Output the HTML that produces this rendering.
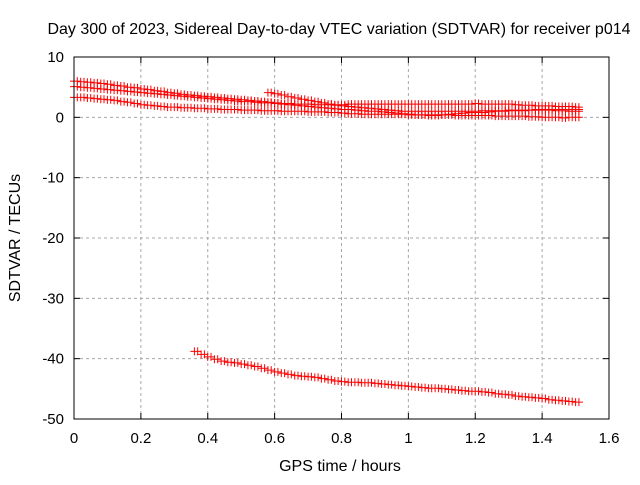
<!DOCTYPE html>
<html><head><meta charset="utf-8"><style>
body{margin:0;background:#fff}
svg text{font-family:"Liberation Sans",sans-serif;font-size:15px;fill:#000}
svg text.big{font-size:16px}
</style></head><body>
<svg id="c" width="640" height="480" xmlns="http://www.w3.org/2000/svg">
<rect width="640" height="480" fill="#fff"/>
<text class="big" x="339" y="34" text-anchor="middle">Day 300 of 2023, Sidereal Day-to-day VTEC variation (SDTVAR) for receiver p014</text>
<text class="big" x="340" y="471" text-anchor="middle">GPS time / hours</text>
<text class="big" transform="translate(20,238) rotate(-90)" text-anchor="middle">SDTVAR / TECUs</text>
<g id="grid"></g><g id="marks"></g>
<rect x="74" y="57" width="535" height="362" fill="none" stroke="#000" stroke-width="1"/>
</svg>
<script>
const xTicks=[0,0.2,0.4,0.6,0.8,1,1.2,1.4,1.6];
const xTickLabels=["0","0.2","0.4","0.6","0.8","1","1.2","1.4","1.6"];
const yTicks=[10,0,-10,-20,-30,-40,-50];
const yTickLabels=["10","0","-10","-20","-30","-40","-50"];
const step=0.02;
const s1Start=0;
const s1=[6.0,5.9,5.8,5.7,5.6,5.5,5.3,5.2,5.0,4.9,4.7,4.6,4.4,4.3,4.1,4.0,3.8,3.7,3.6,3.5,3.4,3.3,3.2,3.1,3.0,2.9,2.8,2.7,2.6,2.5,2.4,2.3,2.3,2.2,2.2,2.2,2.1,2.1,2.1,2.1,2.1,2.2,2.2,2.2,2.2,2.2,2.2,2.2,2.2,2.2,2.2,2.2,2.2,2.2,2.2,2.2,2.2,2.2,2.2,2.2,2.3,2.2,2.2,2.2,2.2,2.2,2.1,2.0,2.0,1.9,1.9,1.9,1.8,1.8,1.8,1.7];
const s2Start=0;
const s2=[5.1,5.0,4.9,4.8,4.7,4.6,4.5,4.4,4.3,4.2,4.1,4.0,3.9,3.8,3.7,3.6,3.5,3.4,3.3,3.2,3.1,3.0,2.9,2.8,2.7,2.6,2.6,2.5,2.4,2.4,2.3,2.2,2.1,2.0,1.9,1.8,1.7,1.6,1.5,1.4,1.3,1.3,1.2,1.1,1.0,1.0,0.9,0.8,0.7,0.6,0.5,0.4,0.4,0.3,0.3,0.4,0.5,0.6,0.7,0.8,0.8,0.8,0.9,1.0,1.0,1.1,1.1,1.1,1.2,1.2,1.2,1.2,1.1,1.1,1.0,1.0];
const s3Start=0;
const s3=[3.3,3.3,3.2,3.1,3.0,2.9,2.8,2.6,2.5,2.3,2.1,2.0,1.9,1.8,1.7,1.7,1.6,1.6,1.5,1.5,1.4,1.4,1.3,1.3,1.3,1.2,1.2,1.2,1.1,1.1,1.1,1.0,1.0,1.0,1.0,0.9,0.9,0.9,0.8,0.8,0.7,0.6,0.6,0.5,0.5,0.5,0.5,0.5,0.5,0.5,0.4,0.4,0.4,0.4,0.4,0.4,0.4,0.3,0.3,0.3,0.3,0.3,0.3,0.2,0.2,0.2,0.2,0.2,0.1,0.1,0.0,0.0,0.0,-0.1,0.0,0.0];
const s4Start=0.58;
const s4=[4.1,3.9,3.7,3.4,3.2,3.0,2.8,2.6,2.4,2.2,2.0,1.9,1.8,1.7,1.6,1.5,1.4,1.3,1.2,1.1,1.0,1.0,1.0,1.0,1.0,1.0,1.0,1.0,1.0,1.0,1.0,1.0,1.1,1.1,1.1,1.1,1.2,1.2,1.2,1.2,1.3,1.3,1.3,1.3,1.3,1.3,1.3];
const s5Start=0.36;
const s5=[-38.8,-39.3,-39.7,-40.1,-40.4,-40.6,-40.7,-40.9,-41.1,-41.3,-41.6,-41.9,-42.2,-42.4,-42.6,-42.8,-42.9,-43.0,-43.1,-43.3,-43.5,-43.7,-43.8,-43.9,-43.9,-44.0,-44.0,-44.1,-44.2,-44.3,-44.4,-44.5,-44.6,-44.7,-44.8,-44.9,-44.9,-45.0,-45.1,-45.2,-45.3,-45.4,-45.4,-45.5,-45.6,-45.8,-45.9,-46.0,-46.2,-46.3,-46.4,-46.5,-46.6,-46.8,-46.9,-47.0,-47.1,-47.2];
const X0=74,X1=609,Y0=57,Y1=419;
const sx=v=>X0+(v-0)/(1.6-0)*(X1-X0);
const sy=v=>Y0+(10-v)/(10-(-50))*(Y1-Y0);
const NS="http://www.w3.org/2000/svg";
const grid=document.getElementById('grid'),marks=document.getElementById('marks');
function mk(tag,attrs,parent){const e=document.createElementNS(NS,tag);for(const k in attrs)e.setAttribute(k,attrs[k]);parent.appendChild(e);return e;}
xTicks.forEach((t,i)=>{const x=sx(t);
 if(i>0&&i<xTicks.length-1){const g=mk('line',{x1:x,x2:x,y1:Y0,y2:Y1,stroke:'#a8a8a8','stroke-dasharray':'3,3'},grid);
 
 }
 mk('line',{x1:x,x2:x,y1:Y1,y2:Y1-6,stroke:'#000'},grid);
 mk('line',{x1:x,x2:x,y1:Y0,y2:Y0+6,stroke:'#000'},grid);
 const l=mk('text',{x:x,y:Y1+24,'text-anchor':'middle'},grid);l.textContent=xTickLabels[i];
 
 });
yTicks.forEach((t,i)=>{const y=sy(t);
 if(i>0&&i<yTicks.length-1){const g=mk('line',{x1:X0,x2:X1,y1:y,y2:y,stroke:'#a8a8a8','stroke-dasharray':'3,3'},grid);
 
 }
 mk('line',{x1:X0,x2:X0+6,y1:y,y2:y,stroke:'#000'},grid);
 mk('line',{x1:X1,x2:X1-6,y1:y,y2:y,stroke:'#000'},grid);
 const l=mk('text',{x:X0-10,y:y+5,'text-anchor':'end'},grid);l.textContent=yTickLabels[i];
 
 });
[[s1Start,s1],[s2Start,s2],[s3Start,s3],[s4Start,s4],[s5Start,s5]].forEach(([st,arr],si)=>{
 let d='';
 arr.forEach((v,i)=>{const x=sx(st+i*step),y=sy(v);
  d+=`M${(x-4).toFixed(1)},${y.toFixed(1)}h8M${x.toFixed(1)},${(y-4).toFixed(1)}v8`;
  d+=`M${(x+3.3-4).toFixed(1)},${y.toFixed(1)}h8M${(x+3.3).toFixed(1)},${(y-4).toFixed(1)}v8`;});
 const p=mk('path',{d:d,stroke:'#ff0000','stroke-width':1,fill:'none'},marks);
 
 
});
</script>
</body></html>
